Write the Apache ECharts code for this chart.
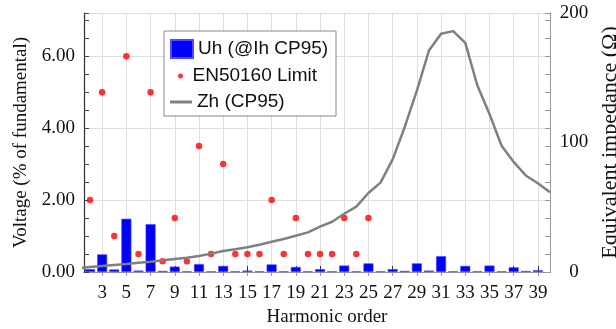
<!DOCTYPE html>
<html><head><meta charset="utf-8">
<script src="https://cdn.jsdelivr.net/npm/echarts@6/dist/echarts.min.js"></script>
<style>html,body{margin:0;padding:0;background:#fff}#c{width:616px;height:329px}</style>
</head><body><div id="c"></div>
<script>
// Harmonic orders
const barHarmonics = [2,3,4,5,6,7,8,9,10,11,12,13,14,15,16,17,18,19,20,21,22,23,24,25,26,27,28,29,30,31,32,33,34,35,36,37,38,39];
// Uh (@Ih CP95), % of fundamental
const uhValues = [0.08,0.49,0.07,1.48,0.04,1.33,0.03,0.15,0.02,0.22,0.02,0.17,0.02,0.04,0.02,0.21,0.02,0.14,0.02,0.08,0.02,0.18,0.02,0.24,0.02,0.08,0.03,0.24,0.04,0.44,0.02,0.17,0.02,0.18,0.02,0.13,0.03,0.05];
// EN50160 limit
const limitHarmonics = [2,3,4,5,6,7,8,9,10,11,12,13,14,15,16,17,18,19,20,21,22,23,24,25];
const limitValues = [2,5,1,6,0.5,5,0.3,1.5,0.3,3.5,0.5,3,0.5,0.5,0.5,2,0.5,1.5,0.5,0.5,0.5,1.5,0.5,1.5];
// Zh (CP95), Ohm
const zhHarmonics = [1,2,3,4,5,6,7,8,9,10,11,12,13,14,15,16,17,18,19,20,21,22,23,24,25,26,27,28,29,30,31,32,33,34,35,36,37,38,39,40];
const zhValues = [3.0,3.8,4.6,5.4,6.2,7.1,8.0,9.0,10.0,11.0,12.3,14.2,16.2,17.6,19.1,21,23.4,25.5,28,30.6,35,38.8,45,50.5,61,69,87,112,140,171,184,186,177,144,122,97.5,85,74.5,68.5,61.5];
// Axis tick labels
const xTickValues = [3,5,7,9,11,13,15,17,19,21,23,25,27,29,31,33,35,37,39];

const serif = '"Liberation Serif","Times New Roman",serif';
const sans = '"Liberation Sans",Arial,sans-serif';

const chart = echarts.init(document.getElementById('c'), null, {renderer:'canvas'});
const legendText = {fontFamily: sans, fontSize: 19, color: '#111', lineHeight: 20};
chart.setOption({
  animation: false,
  grid: {left: 84, right: 66, top: 13, bottom: 57, containLabel: false, outerBoundsMode: 'none'},
  xAxis: [{
    type: 'value', min: 1.5, max: 40,
    name: 'Harmonic order', nameLocation: 'middle', nameGap: 30,
    nameTextStyle: {fontFamily: serif, fontSize: 19, color: '#111', padding: [0,0,0,20]},
    axisLine: {show: true, lineStyle: {color: '#333', width: 1.2}},
    axisTick: {show: true, inside: true, length: 6, customValues: xTickValues, lineStyle: {color: '#333'}},
    axisLabel: {customValues: xTickValues, fontFamily: serif, fontSize: 19, color: '#111', margin: 12},
    splitLine: {show: true, lineStyle: {color: '#dedede', width: 1}}
  }, {
    type: 'value', min: 1.5, max: 40, position: 'top',
    axisLine: {show: true, lineStyle: {color: '#999'}},
    axisTick: {show: true, inside: true, length: 4, customValues: xTickValues, lineStyle: {color: '#999'}},
    axisLabel: {show: false},
    splitLine: {show: false}
  }],
  yAxis: [{
    type: 'value', min: 0, max: 7.2, interval: 2, position: 'left',
    name: 'Voltage (% of fundamental)', nameLocation: 'middle', nameGap: 48,
    nameTextStyle: {fontFamily: serif, fontSize: 19, color: '#111'},
    axisLine: {show: true, lineStyle: {color: '#333', width: 1.2}},
    axisTick: {show: false},
    axisLabel: {fontFamily: serif, fontSize: 19, color: '#111', margin: 9, showMaxLabel: false,
      formatter: v => v.toFixed(2)},
    splitLine: {show: true, lineStyle: {color: '#dedede', width: 1}}
  }, {
    type: 'value', min: 0, max: 200, interval: 100, position: 'right',
    name: 'Equivalent impedance (Ω)', nameLocation: 'middle', nameGap: 44,
    nameTextStyle: {fontFamily: serif, fontSize: 22, color: '#111'},
    axisLine: {show: true, lineStyle: {color: '#999'}},
    axisTick: {show: false},
    axisLabel: {fontFamily: serif, fontSize: 19, color: '#111', margin: 24, align: 'center'},
    splitLine: {show: false}
  }, {
    type: 'value', min: 0, max: 7.2, interval: 0.5, position: 'left', offset: 0,
    axisLine: {show: false},
    axisTick: {show: true, inside: true, length: 5, lineStyle: {color: '#444'}},
    axisLabel: {show: false}, splitLine: {show: false}
  }, {
    type: 'value', min: 0, max: 7.2, interval: 0.5, position: 'right', offset: 0,
    axisLine: {show: false},
    axisTick: {show: true, inside: true, length: 5, lineStyle: {color: '#999'}},
    axisLabel: {show: false}, splitLine: {show: false}
  }],
  legend: [{
    data: [{name: 'Uh (@Ih CP95)', icon: 'rect'}], left: 170, top: 39, padding: 0,
    itemWidth: 22, itemHeight: 18, itemGap: 0,
    textStyle: legendText, selectedMode: false, z: 6
  }, {
    data: [{name: 'EN50160 Limit', icon: 'circle'}], left: 178, top: 66, padding: 0,
    itemWidth: 14, itemHeight: 5,
    textStyle: legendText, selectedMode: false, z: 6
  }, {
    data: [{name: 'Zh (CP95)', icon: 'rect'}], left: 170, top: 92, padding: 0,
    itemWidth: 22, itemHeight: 3,
    textStyle: legendText, selectedMode: false, z: 6
  }],
  graphic: [{
    type: 'rect', z: 5, shape: {x: 164, y: 31, width: 172, height: 85},
    style: {fill: '#fff', stroke: '#888', lineWidth: 1}
  }],
  series: [{
    name: 'Uh (@Ih CP95)', type: 'bar', xAxisIndex: 0, yAxisIndex: 0, barWidth: 10,
    itemStyle: {color: '#0000ff', borderColor: '#4d4dff', borderWidth: 0.6},
    data: barHarmonics.map((h, i) => [h, uhValues[i]])
  }, {
    name: 'EN50160 Limit', type: 'scatter', xAxisIndex: 0, yAxisIndex: 0, symbol: 'circle', symbolSize: 6.5,
    itemStyle: {color: '#ff0000'},
    data: limitHarmonics.map((h, i) => [h, limitValues[i]])
  }, {
    name: 'Zh (CP95)', type: 'line', xAxisIndex: 0, yAxisIndex: 1, symbol: 'none', smooth: false,
    lineStyle: {color: '#808080', width: 2.5}, itemStyle: {color: '#808080'},
    data: zhHarmonics.map((h, i) => [h, zhValues[i]])
  }]
});
</script></body></html>
